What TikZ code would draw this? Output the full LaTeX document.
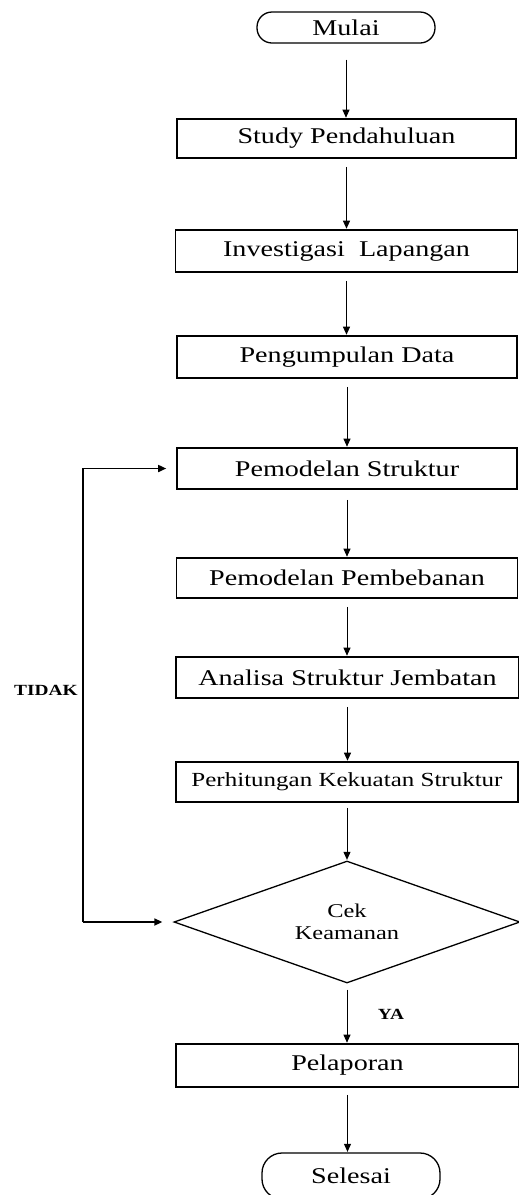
\documentclass[tikz,border=0pt]{standalone}
\usepackage{fontspec}
\setmainfont{Liberation Serif}
\usetikzlibrary{arrows.meta,shapes.geometric}
\newcommand{\wtxt}[1]{\scalebox{1.25}[1]{#1}}
\tikzset{
  procbox/.style={draw, line width=1.6pt, rectangle, inner sep=0pt, font=\fontsize{22.5}{26}\selectfont},
  term/.style={draw, line width=1.3pt, rectangle, rounded corners=15pt, inner sep=0pt, font=\fontsize{22.5}{26}\selectfont},
  dec/.style={draw, line width=1.3pt, diamond, aspect=2.84, inner sep=0pt, font=\fontsize{19.5}{22}\selectfont, align=center},
  flow/.style={line width=0.9pt, -{Triangle[length=8pt,width=7pt]}, shorten <=8pt, shorten >=0.5pt},
  fb/.style={line width=1.6pt, -{Triangle[length=8pt,width=7pt]}},
  lbl/.style={font=\fontsize{15.5}{18}\selectfont\bfseries, inner sep=0pt}
}
\begin{document}
\begin{tikzpicture}[x=1pt,y=-1pt]
\useasboundingbox (0,0) rectangle (519,1195);
\clip (0,0) rectangle (519,1195);
\node[term, minimum width=178pt, minimum height=31pt] (mulai) at (346,27.5) {\wtxt{Mulai}};
\node[procbox, minimum width=339pt, minimum height=39pt] (s1) at (346.5,138.5) {\wtxt{Study Pendahuluan}};
\node[procbox, minimum width=342pt, minimum height=42pt] (s2) at (346.5,251) {\wtxt{Investigasi \ Lapangan}};
\node[procbox, minimum width=340pt, minimum height=42pt] (s3) at (347,357) {\wtxt{Pengumpulan Data}};
\node[procbox, minimum width=340pt, minimum height=41pt] (s4) at (347,468.5) {\wtxt{Pemodelan Struktur}};
\node[procbox, minimum width=341pt, minimum height=40pt] (s5) at (347,578) {\wtxt{Pemodelan Pembebanan}};
\node[procbox, minimum width=343pt, minimum height=41pt] (s6) at (347.5,677.5) {\wtxt{Analisa Struktur Jembatan}};
\node[procbox, minimum width=342pt, minimum height=40pt, font=\fontsize{20}{24}\selectfont] (s7) at (347,782) {\wtxt{Perhitungan Kekuatan Struktur}};
\node[dec, minimum width=346pt, minimum height=122pt] (d) at (347,922) {\wtxt{Cek}\\\wtxt{Keamanan}};
\node[procbox, minimum width=343pt, minimum height=43pt] (s8) at (347.5,1065.5) {\wtxt{Pelaporan}};
\node[term, rounded corners=20pt, minimum width=178pt, minimum height=46pt] (selesai) at (351,1176) {\wtxt{Selesai}};

\node[lbl] (tidak) at (46,690) {\wtxt{TIDAK}};
\node[lbl] (ya) at (391,1014) {\wtxt{YA}};

\draw[flow, shorten <=16pt] (mulai.south) -- (mulai.south |- s1.north);
\draw[flow] (s1.south) -- (s1.south |- s2.north);
\draw[flow] (s2.south) -- (s2.south |- s3.north);
\draw[flow] (s3.south) -- (s3.south |- s4.north);
\draw[flow, shorten <=10pt] (s4.south) -- (s4.south |- s5.north);
\draw[flow] (s5.south) -- (s5.south |- s6.north);
\draw[flow] (s6.south) -- (s6.south |- s7.north);
\draw[flow, shorten <=5pt] (s7.south) -- (s7.south |- d.north);
\draw[flow, shorten <=6pt] (d.south) -- (d.south |- s8.north);
\draw[flow, shorten <=7pt] (s8.south) -- (s8.south |- selesai.north);

\coordinate (fb1) at (83,922);
\draw[fb, shorten >=11pt] (fb1) -- (d.west);
\draw[fb, shorten >=10pt] (fb1) |- (s4.west);
\end{tikzpicture}
\end{document}
